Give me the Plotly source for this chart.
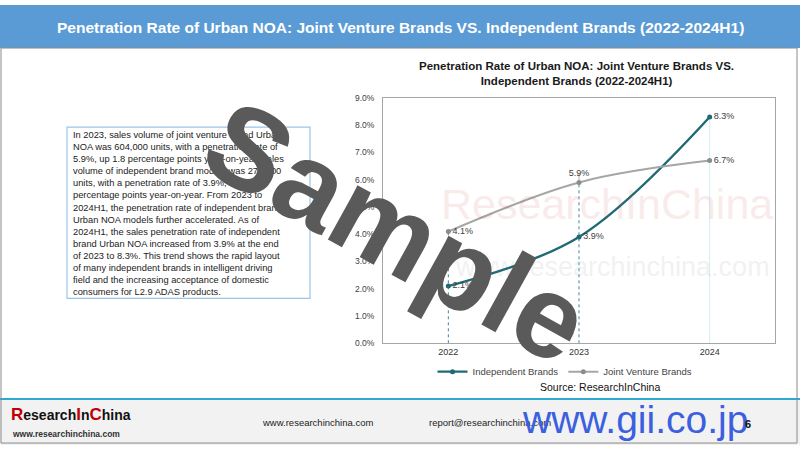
import plotly.graph_objects as go

# ---------------- data ----------------
years = ["2022", "2023", "2024"]
independent = [2.1, 3.9, 8.3]
joint_venture = [4.1, 5.9, 6.7]
y_ticks = [0, 1, 2, 3, 4, 5, 6, 7, 8, 9]
y_tick_labels = [f"{v:.1f}%" for v in y_ticks]
series_names = ["Independent Brands", "Joint Venture Brands"]

slide_title = "Penetration Rate of Urban NOA: Joint Venture Brands VS. Independent Brands (2022-2024H1)"
chart_title = "Penetration Rate of Urban NOA: Joint Venture Brands VS.<br>Independent Brands (2022-2024H1)"
body_lines = [
    "In 2023, sales volume of joint venture brand Urban",
    "NOA was 604,000 units, with a penetration rate of",
    "5.9%, up 1.8 percentage points year-on-year; sales",
    "volume of independent brand models was 273,000",
    "units, with a penetration rate of 3.9%, up 1.8",
    "percentage points year-on-year. From 2023 to",
    "2024H1, the penetration rate of independent brand",
    "Urban NOA models further accelerated. As of",
    "2024H1, the sales penetration rate of independent",
    "brand Urban NOA increased from 3.9% at the end",
    "of 2023 to 8.3%. This trend shows the rapid layout",
    "of many independent brands in intelligent driving",
    "field and the increasing acceptance of domestic",
    "consumers for L2.9 ADAS products.",
]

TEAL = "#1F6B75"
GRAY = "#A6A6A6"
W, H = 800, 450
FONT = "Liberation Sans, Arial, sans-serif"


def px(x):
    return x / W


def py(y):
    return 1 - y / H


fig = go.Figure()

# drop lines from each category's top value to the axis
tops = [max(a, b) for a, b in zip(independent, joint_venture)]
for i, (yr, top) in enumerate(zip(years, tops)):
    fig.add_trace(go.Scatter(
        x=[yr, yr], y=[0, top], mode="lines",
        line=dict(color="#3A8A96" if i < 2 else "#D3EEF4", width=1, dash="3px,3px" if i < 2 else "solid"),
        showlegend=False, hoverinfo="skip"))

# leader line for 2023 JV label
fig.add_trace(go.Scatter(
    x=[years[1], years[1]], y=[joint_venture[1], joint_venture[1] + 0.35], mode="lines",
    line=dict(color="#9A9A9A", width=0.8), showlegend=False, hoverinfo="skip"))

fig.add_trace(go.Scatter(
    x=years, y=independent, name=series_names[0],
    mode="lines+markers+text",
    line=dict(color=TEAL, width=2.4, shape="spline", smoothing=1.0),
    marker=dict(color=TEAL, size=5),
    text=[f"{v:.1f}%" for v in independent],
    textposition=["middle right", "middle right", "middle right"],
    textfont=dict(family=FONT, size=9, color="#404040"),
))
fig.add_trace(go.Scatter(
    x=years, y=joint_venture, name=series_names[1],
    mode="lines+markers+text",
    line=dict(color=GRAY, width=2, shape="spline", smoothing=1.0),
    marker=dict(color="#8C8C8C", size=5),
    text=[f"{v:.1f}%" for v in joint_venture],
    textposition=["middle right", "top center", "middle right"],
    textfont=dict(family=FONT, size=9, color="#404040"),
))

shapes = []
# header bar
shapes.append(dict(type="rect", xref="paper", yref="paper", x0=0, x1=1, y0=py(44), y1=1,
                   fillcolor="#5B9BD5", line=dict(width=0), layer="below"))
# footer
shapes.append(dict(type="rect", xref="paper", yref="paper", x0=0, x1=1, y0=0, y1=py(404),
                   fillcolor="#F2F2F2", line=dict(width=0), layer="below"))
shapes.append(dict(type="line", xref="paper", yref="paper", x0=0, x1=1, y0=py(403), y1=py(403),
                   line=dict(color="#2EA9CF", width=2)))
# slide border
shapes.append(dict(type="rect", xref="paper", yref="paper", x0=px(1), x1=px(797), y0=py(448), y1=py(44),
                   line=dict(color="#8A8A8A", width=1), layer="above"))
# text box border
shapes.append(dict(type="rect", xref="paper", yref="paper", x0=px(67), x1=px(310), y0=py(300), y1=py(125),
                   line=dict(color="#9DC3E6", width=1.2), layer="below"))

annotations = []
annotations.append(dict(text="<b>" + slide_title + "</b>", xref="paper", yref="paper", x=0.5, y=py(23),
                        showarrow=False, xanchor="center", yanchor="middle",
                        font=dict(family=FONT, size=15.5, color="white")))
annotations.append(dict(text="<b>" + chart_title + "</b>", xref="paper", yref="paper", x=px(576), y=py(70),
                        showarrow=False, xanchor="center", yanchor="middle",
                        font=dict(family=FONT, size=11.5, color="#1a1a1a")))
annotations.append(dict(text="<br>".join(body_lines), xref="paper", yref="paper", x=px(71), y=py(213),
                        showarrow=False, xanchor="left", yanchor="middle", align="left",
                        font=dict(family=FONT, size=9.3, color="#222222")))
annotations.append(dict(text="Source: ResearchInChina", xref="paper", yref="paper", x=px(600), y=py(391),
                        showarrow=False, xanchor="center", yanchor="middle",
                        font=dict(family=FONT, size=10.5, color="#111111")))
# faint in-chart watermark
annotations.append(dict(text="ResearchInChina", xref="paper", yref="paper", x=px(607), y=py(204),
                        showarrow=False, xanchor="center", yanchor="middle", opacity=0.09,
                        font=dict(family=FONT, size=43, color="#D03030")))
annotations.append(dict(text="www.researchinchina.com", xref="paper", yref="paper", x=px(612), y=py(268),
                        showarrow=False, xanchor="center", yanchor="middle", opacity=0.08,
                        font=dict(family=FONT, size=27, color="#606060")))
# footer texts
annotations.append(dict(text='<b><span style="color:#C00000;font-size:17px">R</span>esearch'
                             '<span style="color:#C00000;font-size:17px">I</span>n'
                             '<span style="color:#C00000;font-size:17px">C</span>hina</b>',
                        xref="paper", yref="paper", x=px(9), y=py(419), showarrow=False,
                        xanchor="left", yanchor="middle",
                        font=dict(family=FONT, size=14, color="#111111")))
annotations.append(dict(text="<b>www.researchinchina.com</b>", xref="paper", yref="paper", x=px(10), y=py(439),
                        showarrow=False, xanchor="left", yanchor="middle",
                        font=dict(family=FONT, size=8.5, color="#333333")))
annotations.append(dict(text="www.researchinchina.com", xref="paper", yref="paper", x=px(317), y=py(427),
                        showarrow=False, xanchor="center", yanchor="middle",
                        font=dict(family=FONT, size=9.5, color="#222222")))
annotations.append(dict(text="report@researchinchina.com", xref="paper", yref="paper", x=px(490), y=py(427),
                        showarrow=False, xanchor="center", yanchor="middle",
                        font=dict(family=FONT, size=9.5, color="#222222")))
annotations.append(dict(text="www.gii.co.jp", xref="paper", yref="paper", x=px(635), y=py(424),
                        showarrow=False, xanchor="center", yanchor="middle",
                        font=dict(family=FONT, size=39, color="#3C5FE0")))
annotations.append(dict(text="<b>6</b>", xref="paper", yref="paper", x=px(748), y=py(429),
                        showarrow=False, xanchor="center", yanchor="middle",
                        font=dict(family=FONT, size=11, color="#111111")))
# big "Sample" watermark
annotations.append(dict(text="<b>Sample</b>", xref="paper", yref="paper", x=px(397), y=py(232),
                        showarrow=False, xanchor="center", yanchor="middle", textangle=29,
                        font=dict(family=FONT, size=117, color="#5A5A5A")))

fig.update_layout(
    width=W, height=H, margin=dict(l=0, r=0, t=0, b=0),
    paper_bgcolor="white", plot_bgcolor="white",
    shapes=shapes, annotations=annotations,
    xaxis=dict(type="category", categoryorder="array", categoryarray=years, range=[-0.5, 2.5],
               domain=[px(383), px(775)], showline=True, mirror=True, linecolor="#A6A6A6",
               showgrid=False, zeroline=False, ticks="",
               tickfont=dict(family=FONT, size=9, color="#333333")),
    yaxis=dict(range=[0, 9], tickvals=y_ticks, ticktext=y_tick_labels,
               domain=[py(346), py(95)], showline=True, mirror=True, linecolor="#A6A6A6",
               showgrid=False, zeroline=False, ticks="", ticklabelstandoff=6,
               tickfont=dict(family=FONT, size=8.5, color="#404040")),
    legend=dict(orientation="h", x=px(565), y=py(375), xanchor="center", yanchor="middle",
                font=dict(family=FONT, size=9.5, color="#444444"),
                bgcolor="rgba(0,0,0,0)"),
)

fig.write_html("out.html", config={"displayModeBar": False},
               post_script="document.body.style.margin='0';document.body.style.overflow='hidden';")
